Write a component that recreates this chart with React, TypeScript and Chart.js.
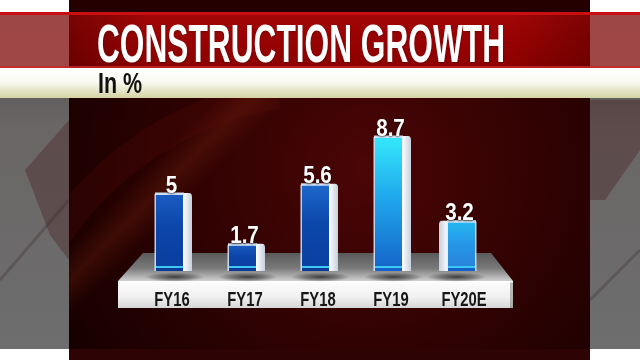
import { useEffect, useRef } from 'react';
import { Chart, registerables } from 'chart.js';

Chart.register(...registerables);

// ---------- data ----------
const TITLE = 'CONSTRUCTION GROWTH';
const SUBTITLE = 'In %';
const categories = ['FY16', 'FY17', 'FY18', 'FY19', 'FY20E'];
const growth = [5, 1.7, 5.6, 8.7, 3.2];
const valueLabels = ['5', '1.7', '5.6', '8.7', '3.2'];
const yMin = 0;
const yMax = 10;

// ---------- styles ----------
const barTopColors = ['#1a5cc2', '#1a5cc2', '#1e68cc', '#34e8fb', '#24b8f2'];
const barMidColors = ['#0c45a8', '#0c45a8', '#0c47aa', '#20a8ec', '#2596e6'];
const barBottomColors = ['#0a3d9e', '#0a3d9e', '#0a3fa0', '#1462c8', '#2a80d8'];
const sideDir = [1, 1, 1, 1, -1];

const FONT = '"Liberation Sans", Arial, sans-serif';

function drawScaledText(
  ctx: CanvasRenderingContext2D,
  text: string,
  x: number,
  y: number,
  font: string,
  sx: number,
  align: CanvasTextAlign,
  fill: string | CanvasGradient
) {
  ctx.save();
  ctx.font = font;
  ctx.textBaseline = 'alphabetic';
  ctx.textAlign = align;
  ctx.translate(x, y);
  ctx.scale(sx, 1);
  ctx.fillStyle = fill;
  ctx.fillText(text, 0, 0);
  ctx.restore();
}

const scenePlugin = {
  id: 'scene',
  beforeDatasetsDraw(chart: any) {
    const ctx: CanvasRenderingContext2D = chart.ctx;
    const W = chart.width;
    const H = chart.height;
    const px0 = 69;
    const px1 = 590;
    ctx.save();

    // side panels (gray)
    const sg = ctx.createLinearGradient(0, 0, 0, H);
    sg.addColorStop(0, '#4e4646');
    sg.addColorStop(0.35, '#6a6666');
    sg.addColorStop(1, '#6e6e6e');
    ctx.fillStyle = sg;
    ctx.fillRect(0, 0, W, H);
    // darker shapes on sides
    ctx.fillStyle = 'rgba(70,25,25,0.35)';
    ctx.beginPath();
    ctx.moveTo(25, 170);
    ctx.lineTo(69, 120);
    ctx.lineTo(69, 260);
    ctx.lineTo(50, 235);
    ctx.closePath();
    ctx.fill();
    ctx.beginPath();
    ctx.moveTo(590, 100);
    ctx.lineTo(640, 100);
    ctx.lineTo(640, 150);
    ctx.lineTo(605, 200);
    ctx.lineTo(590, 200);
    ctx.closePath();
    ctx.fill();
    ctx.strokeStyle = 'rgba(60,40,40,0.3)';
    ctx.lineWidth = 3;
    ctx.beginPath();
    ctx.moveTo(0, 280);
    ctx.lineTo(69, 200);
    ctx.moveTo(590, 300);
    ctx.lineTo(640, 250);
    ctx.stroke();

    // white strips on sides
    ctx.fillStyle = '#ffffff';
    ctx.fillRect(0, 0, W, 12);
    ctx.fillRect(0, 349, W, H - 349);

    // central dark red panel
    const pg = ctx.createRadialGradient(370, 170, 10, 370, 170, 380);
    pg.addColorStop(0, '#4a0505');
    pg.addColorStop(0.45, '#300202');
    pg.addColorStop(1, '#120000');
    ctx.fillStyle = pg;
    ctx.fillRect(px0, 0, px1 - px0, H);
    // soft diagonal glow on left
    ctx.save();
    ctx.beginPath();
    ctx.rect(px0, 98, px1 - px0, 251);
    ctx.clip();
    ctx.translate(150, 200);
    ctx.rotate(-Math.PI / 4);
    const glow = ctx.createLinearGradient(0, -25, 0, 25);
    glow.addColorStop(0, 'rgba(140,45,15,0)');
    glow.addColorStop(0.5, 'rgba(140,45,15,0.25)');
    glow.addColorStop(1, 'rgba(140,45,15,0)');
    ctx.fillStyle = glow;
    ctx.fillRect(-200, -25, 400, 50);
    ctx.restore();
    // curved lighter swoosh top-left
    ctx.save();
    ctx.beginPath();
    ctx.rect(px0, 98, px1 - px0, 251);
    ctx.clip();
    ctx.strokeStyle = 'rgba(110,20,10,0.16)';
    ctx.lineWidth = 30;
    ctx.beginPath();
    ctx.arc(330, 420, 330, Math.PI * 1.05, Math.PI * 1.45);
    ctx.stroke();
    ctx.restore();

    // panel top and bottom strips
    ctx.fillStyle = '#240000';
    ctx.fillRect(px0, 0, px1 - px0, 12);
    ctx.fillStyle = '#2e0303';
    ctx.fillRect(px0, 349, px1 - px0, H - 349);

    // red banner
    const bg = ctx.createLinearGradient(0, 12, 0, 68);
    bg.addColorStop(0, '#a30606');
    bg.addColorStop(0.5, '#980202');
    bg.addColorStop(1, '#8c0000');
    ctx.fillStyle = bg;
    ctx.fillRect(px0, 12, px1 - px0, 56);
    const hg = ctx.createLinearGradient(px0, 0, px1, 0);
    hg.addColorStop(0, 'rgba(40,0,0,0.35)');
    hg.addColorStop(0.15, 'rgba(40,0,0,0)');
    hg.addColorStop(0.85, 'rgba(40,0,0,0)');
    hg.addColorStop(1, 'rgba(40,0,0,0.3)');
    ctx.fillStyle = hg;
    ctx.fillRect(px0, 12, px1 - px0, 56);
    ctx.fillStyle = 'rgba(165,70,70,0.92)';
    ctx.fillRect(0, 12, px0, 56);
    ctx.fillRect(px1, 12, W - px1, 56);
    ctx.fillStyle = '#c81010';
    ctx.fillRect(0, 12, W, 3);
    ctx.fillStyle = 'rgba(200,40,40,0.8)';
    ctx.fillRect(0, 66, W, 2);

    // cream subtitle bar
    const cg = ctx.createLinearGradient(0, 68, 0, 98);
    cg.addColorStop(0, '#ffffff');
    cg.addColorStop(0.45, '#fafaf2');
    cg.addColorStop(1, '#d4d4a4');
    ctx.fillStyle = cg;
    ctx.fillRect(0, 68, W, 30);

    // title
    ctx.font = `bold 54px ${FONT}`;
    const tw = ctx.measureText(TITLE).width;
    const tg = ctx.createLinearGradient(0, 22, 0, 62);
    tg.addColorStop(0, '#ffffff');
    tg.addColorStop(0.5, '#f6e2ea');
    tg.addColorStop(1, '#e29ab4');
    ctx.save();
    ctx.shadowColor = 'rgba(60,0,0,0.5)';
    ctx.shadowBlur = 2;
    ctx.shadowOffsetY = 1;
    drawScaledText(ctx, TITLE, 97, 61.5, `bold 54px ${FONT}`, 408 / tw, 'left', tg);
    ctx.restore();

    // subtitle
    drawScaledText(ctx, SUBTITLE, 98, 93, `bold 29px ${FONT}`, 0.74, 'left', '#111111');

    // platform
    const ys = chart.scales.y;
    const area = chart.chartArea;
    const base = ys.getPixelForValue(0);
    const L = area.left - 15;
    const R = area.right + 15;
    const topY = base - 18;
    const frontY = base + 10;
    const botY = base + 37;
    const tpg = ctx.createLinearGradient(0, topY, 0, frontY);
    tpg.addColorStop(0, '#5a5a5a');
    tpg.addColorStop(0.55, '#7a7a7a');
    tpg.addColorStop(0.85, '#b4b4b4');
    tpg.addColorStop(1, '#cfcfcf');
    ctx.fillStyle = tpg;
    ctx.beginPath();
    ctx.moveTo(L + 25, topY);
    ctx.lineTo(R - 22, topY);
    ctx.lineTo(R, frontY);
    ctx.lineTo(L, frontY);
    ctx.closePath();
    ctx.fill();
    const fg = ctx.createLinearGradient(0, frontY, 0, botY);
    fg.addColorStop(0, '#fdfdfd');
    fg.addColorStop(0.6, '#f0f0f0');
    fg.addColorStop(1, '#d6d6d6');
    ctx.fillStyle = fg;
    ctx.fillRect(L, frontY, R - L, botY - frontY);
    ctx.fillStyle = 'rgba(120,120,120,0.5)';
    ctx.fillRect(R - 3, frontY, 3, botY - frontY);
    ctx.fillStyle = 'rgba(255,255,255,0.9)';
    ctx.fillRect(L, frontY, R - L, 1.5);

    // shadows under bars
    const meta = chart.getDatasetMeta(0);
    meta.data.forEach((bar: any, i: number) => {
      const cx = bar.x + sideDir[i] * 5;
      const cy = base + 6;
      ctx.save();
      ctx.translate(cx, cy);
      ctx.scale(1, 0.16);
      const sh = ctx.createRadialGradient(0, 0, 0, 0, 0, 30);
      sh.addColorStop(0, 'rgba(20,20,20,0.75)');
      sh.addColorStop(0.6, 'rgba(40,40,40,0.4)');
      sh.addColorStop(1, 'rgba(60,60,60,0)');
      ctx.fillStyle = sh;
      ctx.beginPath();
      ctx.arc(0, 0, 30, 0, Math.PI * 2);
      ctx.fill();
      ctx.restore();
    });
    ctx.restore();
  },
  afterDatasetsDraw(chart: any) {
    const ctx: CanvasRenderingContext2D = chart.ctx;
    const meta = chart.getDatasetMeta(0);
    ctx.save();
    meta.data.forEach((bar: any, i: number) => {
      const w = bar.width;
      const x0 = bar.x - w / 2;
      const x1 = bar.x + w / 2;
      const top = bar.y;
      const base = bar.base;
      const sw = 9;
      const dir = sideDir[i];
      const sx0 = dir > 0 ? x1 : x0 - sw;
      // side face
      const sg = ctx.createLinearGradient(sx0, 0, sx0 + sw, 0);
      if (dir > 0) {
        sg.addColorStop(0, '#ffffff');
        sg.addColorStop(1, '#c6d0de');
      } else {
        sg.addColorStop(0, '#c6d0de');
        sg.addColorStop(1, '#ffffff');
      }
      ctx.fillStyle = sg;
      ctx.beginPath();
      if (dir > 0) {
        ctx.moveTo(sx0, top - 1);
        ctx.lineTo(sx0 + sw - 3, top - 1);
        ctx.quadraticCurveTo(sx0 + sw, top - 1, sx0 + sw, top + 3);
        ctx.lineTo(sx0 + sw, base);
        ctx.lineTo(sx0, base);
      } else {
        ctx.moveTo(sx0 + sw, top - 1);
        ctx.lineTo(sx0 + 3, top - 1);
        ctx.quadraticCurveTo(sx0, top - 1, sx0, top + 3);
        ctx.lineTo(sx0, base);
        ctx.lineTo(sx0 + sw, base);
      }
      ctx.closePath();
      ctx.fill();
      // top rim
      ctx.fillStyle = 'rgba(215,232,250,0.95)';
      ctx.fillRect(x0 - 1, top - 1.5, w + 2, 2.5);
      // left/right thin edges
      ctx.fillStyle = 'rgba(225,238,255,0.85)';
      ctx.fillRect(x0 - 1.5, top, 1.5, base - top);
      if (dir < 0) ctx.fillRect(x1, top, 1.5, base - top);
      // cyan stripe near bottom
      ctx.fillStyle = '#3cc8f4';
      ctx.fillRect(x0, base - 5, w, 2);
      ctx.fillStyle = i >= 3 ? '#1560c8' : '#0a3a96';
      ctx.fillRect(x0, base - 3, w, 3);

      // value label
      ctx.save();
      ctx.shadowColor = 'rgba(0,0,0,0.55)';
      ctx.shadowBlur = 2;
      ctx.shadowOffsetY = 1;
      drawScaledText(ctx, valueLabels[i], bar.x + 2 * dir, top - 1.5, `bold 24px ${FONT}`, 0.86, 'center', '#ffffff');
      ctx.restore();

      // category label on the platform front
      drawScaledText(ctx, categories[i], bar.x + 2.5, base + 34.5, `bold 20px ${FONT}`, 0.74, 'center', '#161616');
    });
    ctx.restore();
  },
};

export default function App() {
  const ref = useRef<HTMLCanvasElement | null>(null);

  useEffect(() => {
    document.body.style.margin = '0';
    const canvas = ref.current;
    if (!canvas) return;
    const chart = new Chart(canvas, {
      type: 'bar',
      data: {
        labels: categories,
        datasets: [
          {
            data: growth,
            barThickness: 27,
            borderWidth: 0,
            backgroundColor: (c: any) => {
              const i = c.dataIndex ?? 0;
              const ys = c.chart.scales?.y;
              if (!ys || c.type !== 'data') return barMidColors[i];
              const top = ys.getPixelForValue(growth[i]);
              const base = ys.getPixelForValue(0);
              if (!isFinite(top) || !isFinite(base) || top === base) return barMidColors[i];
              const g = c.chart.ctx.createLinearGradient(0, top, 0, base);
              g.addColorStop(0, barTopColors[i]);
              g.addColorStop(0.45, barMidColors[i]);
              g.addColorStop(1, barBottomColors[i]);
              return g;
            },
          },
        ],
      },
      options: {
        animation: false,
        responsive: false,
        devicePixelRatio: 1,
        layout: { padding: { left: 133, right: 142, top: 117, bottom: 89 } },
        scales: {
          x: { display: false, offset: true },
          y: { display: false, min: yMin, max: yMax },
        },
        plugins: {
          legend: { display: false },
          tooltip: { enabled: false },
          title: { display: false },
        },
      },
      plugins: [scenePlugin],
    });
    return () => chart.destroy();
  }, []);

  return (
    <div style={{ position: 'fixed', left: 0, top: 0, width: 640, height: 360 }}>
      <canvas ref={ref} width={640} height={360} style={{ display: 'block' }} />
    </div>
  );
}
